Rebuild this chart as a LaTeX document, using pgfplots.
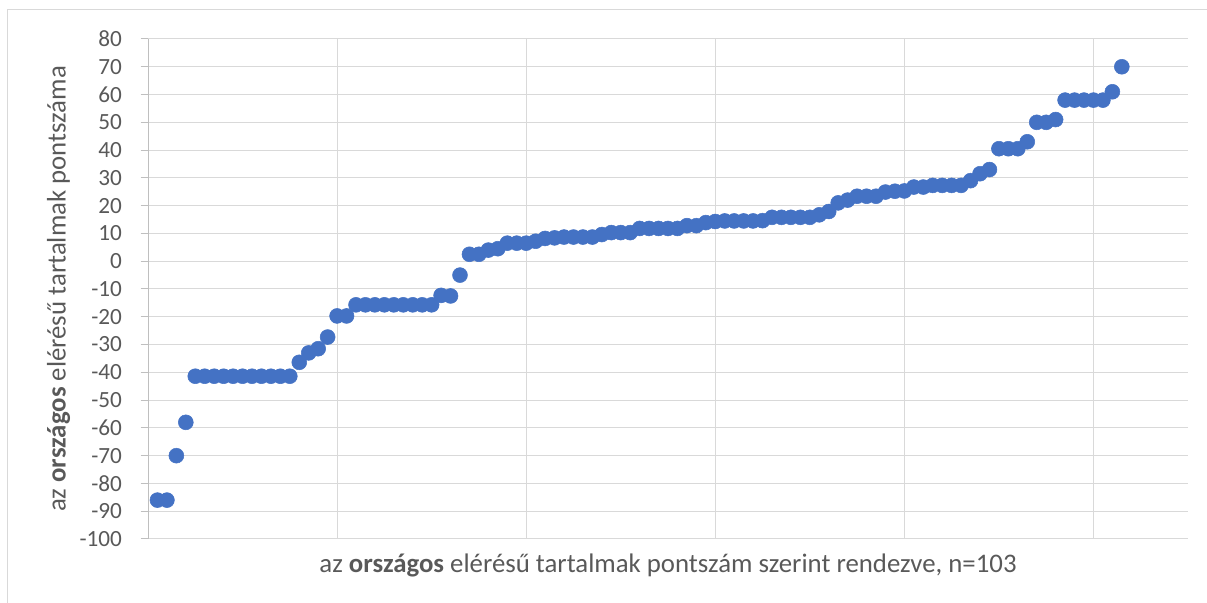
\documentclass[border=0pt]{standalone}
\usepackage{fontspec}
\setmainfont{Carlito}
\usepackage{pgfplots}
\pgfplotsset{compat=1.18}

\definecolor{dotblue}{HTML}{4472C4}
\definecolor{gridgray}{HTML}{D9D9D9}
\definecolor{axisgray}{HTML}{BFBFBF}
\definecolor{textgray}{HTML}{595959}

\begin{document}
\begin{tikzpicture}[x=0.75pt,y=0.75pt]
\useasboundingbox (0,0) rectangle (1207,603);
% chart frame, only top and left edges are inside the picture
\draw[gridgray, line width=0.75pt] (7.5,-5) -- (7.5,593.5) -- (1215,593.5);
\begin{axis}[
    at={(111pt,48pt)}, anchor=south west,
    scale only axis,
    width=780pt, height=375pt,
    xmin=0, xmax=110,
    ymin=-100, ymax=80,
    xtick={20,40,60,80,100},
    xticklabels={},
    ytick distance=10,
    grid=major,
    major grid style={gridgray, line width=0.75pt},
    axis lines*=left,
    x axis line style={draw=none},
    y axis line style={axisgray, line width=0.75pt},
    ytick style={axisgray, line width=0.75pt},
    xtick style={draw=none},
    tick align=outside,
    major tick length=5.5pt,
    /pgf/number format/assume math mode=true,
    yticklabel style={font=\fontsize{17.4}{20}\selectfont, text=textgray, xshift=-10.5pt},
    xlabel={az \textbf{országos} elérésű tartalmak pontszám szerint rendezve, n=103},
    ylabel={az \textbf{országos} elérésű tartalmak pontszáma},
    label style={font=\fontsize{20.1}{23}\selectfont, text=textgray},
    xlabel style={at={(0.5,0)}, anchor=center, yshift=-20pt},
    ylabel style={at={(0,0.5)}, anchor=center, yshift=67pt},
    clip=false,
]
\addplot[only marks, mark=*, mark size=5.6pt, mark options={fill=dotblue, draw=dotblue}] coordinates {
(1,-86) (2,-86) (3,-70) (4,-58)
(5,-41.4) (6,-41.4) (7,-41.4) (8,-41.4) (9,-41.4) (10,-41.4) (11,-41.4) (12,-41.4) (13,-41.4) (14,-41.4) (15,-41.4)
(16,-36.4) (17,-33) (18,-31.5) (19,-27.3) (20,-19.7) (21,-19.7)
(22,-15.7) (23,-15.7) (24,-15.7) (25,-15.7) (26,-15.7) (27,-15.7) (28,-15.7) (29,-15.7) (30,-15.7)
(31,-12.3) (32,-12.5) (33,-5) (34,2.5) (35,2.5) (36,4) (37,4.5)
(38,6.5) (39,6.5) (40,6.5) (41,7.2) (42,8.2) (43,8.4) (44,8.7) (45,8.7) (46,8.7) (47,8.7)
(48,9.6) (49,10.3) (50,10.3) (51,10.3)
(52,11.8) (53,11.8) (54,11.8) (55,11.8) (56,11.8) (57,12.8) (58,12.8)
(59,13.9) (60,14.3) (61,14.5) (62,14.5) (63,14.5) (64,14.5) (65,14.6)
(66,15.8) (67,15.8) (68,15.8) (69,15.8) (70,15.8) (71,16.7) (72,17.9)
(73,21) (74,22) (75,23.4) (76,23.4) (77,23.4) (78,24.9) (79,25.2) (80,25.3)
(81,26.7) (82,26.7) (83,27.3) (84,27.3) (85,27.3) (86,27.3)
(87,29) (88,31.5) (89,33) (90,40.5) (91,40.5) (92,40.5) (93,43)
(94,50) (95,50) (96,51)
(97,58) (98,58) (99,58) (100,58) (101,58) (102,61) (103,70)
};
\end{axis}
\end{tikzpicture}
\end{document}
